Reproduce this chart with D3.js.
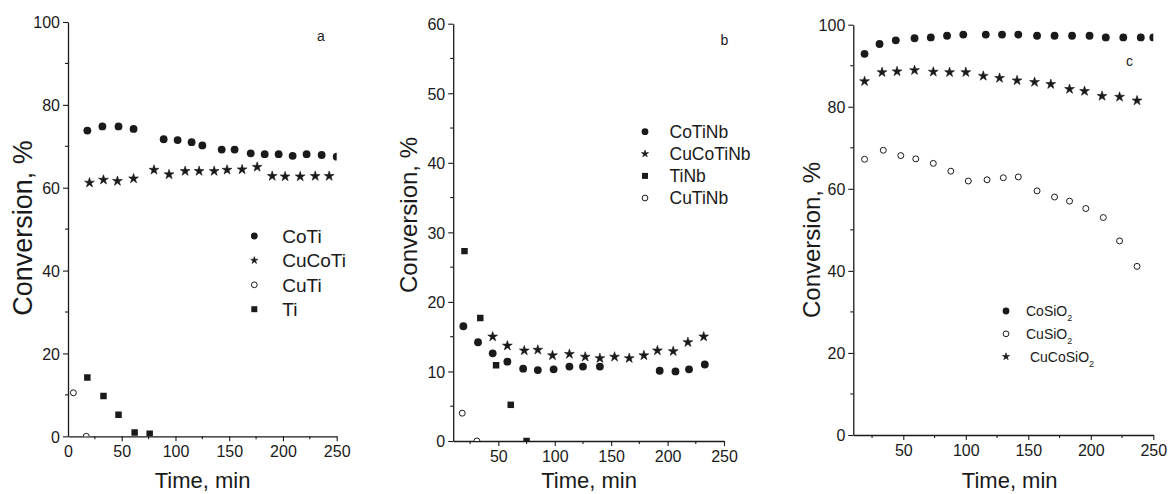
<!DOCTYPE html>
<html>
<head>
<meta charset="utf-8">
<script src="https://cdn.jsdelivr.net/npm/d3@7"></script>
<style>
  html, body { margin: 0; padding: 0; background: #fff; }
  svg { display: block; font-family: "Liberation Sans", Arial, sans-serif; }
</style>
</head>
<body>
<script>
// data ======================================================================
// panel a
var coTiTime   = [18, 32, 47, 61, 89, 102, 115, 125, 143, 155, 170, 183, 196, 209, 222, 236, 250]
var coTiConv   = [73.8, 74.8, 74.8, 74.2, 71.7, 71.5, 71.0, 70.2, 69.2, 69.2, 68.3, 68.1, 68.1, 67.7, 68.1, 67.9, 67.5]
var cuCoTiTime = [20, 33, 46, 61, 80, 94, 109, 122, 136, 148, 162, 176, 190, 202, 216, 230, 243]
var cuCoTiConv = [61.2, 61.9, 61.6, 62.2, 64.3, 63.2, 64.0, 64.0, 64.0, 64.3, 64.4, 65.0, 62.8, 62.7, 62.7, 62.8, 62.8]
var cuTiTime   = [5, 17]
var cuTiConv   = [10.5, 0]
var tiTime     = [18, 33, 47, 62, 76]
var tiConv     = [14.2, 9.7, 5.2, 0.9, 0.6]

// panel b
var coTiNbTime   = [19, 32, 45, 58, 72, 85, 99, 113, 125, 140, 193, 207, 219, 233]
var coTiNbConv   = [16.5, 14.2, 12.6, 11.4, 10.4, 10.2, 10.3, 10.7, 10.7, 10.7, 10.1, 10.0, 10.3, 11.0]
var cuCoTiNbTime = [45, 58, 73, 85, 98, 113, 127, 140, 153, 166, 179, 191, 205, 218, 232]
var cuCoTiNbConv = [15.0, 13.7, 13.0, 13.1, 12.3, 12.5, 12.1, 11.9, 12.1, 11.9, 12.3, 13.0, 12.9, 14.2, 15.0]
var tiNbTime     = [20, 34, 48, 61, 75]
var tiNbConv     = [27.3, 17.7, 10.9, 5.2, 0]
var cuTiNbTime   = [18, 31]
var cuTiNbConv   = [4.0, 0]

// panel c
var coSiTime   = [19, 31, 44, 59, 72, 85, 98, 116, 129, 142, 157, 171, 185, 199, 212, 226, 240, 250]
var coSiConv   = [92.9, 95.3, 96.2, 96.7, 96.9, 97.3, 97.6, 97.6, 97.6, 97.6, 97.3, 97.3, 97.3, 97.3, 96.9, 96.9, 96.9, 96.9]
var cuSiTime   = [19, 34, 48, 60, 74, 88, 102, 117, 130, 142, 157, 171, 183, 196, 210, 223, 237]
var cuSiConv   = [67.2, 69.4, 68.1, 67.3, 66.2, 64.3, 61.9, 62.2, 62.7, 62.9, 59.5, 58.0, 57.0, 55.2, 53.0, 47.3, 41.1]
var cuCoSiTime = [19, 33, 45, 59, 74, 87, 100, 114, 127, 141, 155, 168, 183, 195, 209, 223, 237]
var cuCoSiConv = [86.2, 88.4, 88.6, 88.9, 88.5, 88.4, 88.4, 87.5, 87.0, 86.4, 86.0, 85.5, 84.3, 83.8, 82.6, 82.4, 81.5]

// tick values
var ticksA  = { x: [0, 50, 100, 150, 200, 250], xm: [25, 75, 125, 175, 225], y: [0, 20, 40, 60, 80, 100], ym: [10, 30, 50, 70, 90] }
var ticksB  = { x: [50, 100, 150, 200, 250], xm: [25, 75, 125, 175, 225], y: [0, 10, 20, 30, 40, 50, 60], ym: [5, 15, 25, 35, 45, 55] }
var ticksC  = { x: [50, 100, 150, 200, 250], xm: [25, 75, 125, 175, 225], y: [0, 20, 40, 60, 80, 100], ym: [10, 30, 50, 70, 90] }

// marker shapes ============================================================
var ink = "#1a1a1a"
var markers = {
    dot:    { type: d3.symbolCircle, size: 48, key: 36, fill: ink,    stroke: "none", sw: 0 },
    star:   { type: d3.symbolStar,   size: 30, key: 16, fill: ink,    stroke: ink,    sw: 0.6 },
    ring:   { type: d3.symbolCircle, size: 28, key: 26, fill: "#fff", stroke: ink,    sw: 1 },
    square: { type: d3.symbolSquare, size: 42, key: 36, fill: ink,    stroke: "none", sw: 0 }
}

var zip = function(t, v) { return t.map(function(d, i) { return [d, v[i]] }) }

// panels: layout in pixels, data from the arrays above
var panels = [
    {
        id: "a", xDom: [0, 250], xR: [68, 336.7], yDom: [0, 100], yR: [436.3, 22], ticks: ticksA,
        series: [
            { name: "CoTi",   m: "dot",    pts: zip(coTiTime, coTiConv) },
            { name: "CuCoTi", m: "star",   pts: zip(cuCoTiTime, cuCoTiConv) },
            { name: "CuTi",   m: "ring",   pts: zip(cuTiTime, cuTiConv) },
            { name: "Ti",     m: "square", pts: zip(tiTime, tiConv) }
        ],
        legend: { x: 254.3, y: 236, dy: 24.4, tx: 28, font: 19 },
        tag: { x: 321, y: 41 },
        yTitle: { x: 32, y: 228, font: 27 },
        xTitle: { x: 202.5, y: 488, font: 22 }
    },
    {
        id: "b", xDom: [10, 250], xR: [453.2, 724], yDom: [0, 60], yR: [441, 23.7], ticks: ticksB,
        series: [
            { name: "CoTiNb",   m: "dot",    pts: zip(coTiNbTime, coTiNbConv) },
            { name: "CuCoTiNb", m: "star",   pts: zip(cuCoTiNbTime, cuCoTiNbConv) },
            { name: "TiNb",     m: "square", pts: zip(tiNbTime, tiNbConv) },
            { name: "CuTiNb",   m: "ring",   pts: zip(cuTiNbTime, cuTiNbConv) }
        ],
        legend: { x: 645, y: 131.7, dy: 22.1, tx: 24.5, font: 17.5 },
        tag: { x: 724.5, y: 45 },
        yTitle: { x: 417, y: 215, font: 24 },
        xTitle: { x: 589, y: 488, font: 22 }
    },
    {
        id: "c", xDom: [10, 250], xR: [853.3, 1153.3], yDom: [0, 100], yR: [435, 24.7], ticks: ticksC,
        series: [
            { name: "CoSiO", sub: "2",   m: "dot",  pts: zip(coSiTime, coSiConv) },
            { name: "CuSiO", sub: "2",   m: "ring", pts: zip(cuSiTime, cuSiConv) },
            { name: " CuCoSiO", sub: "2", m: "star", pts: zip(cuCoSiTime, cuCoSiConv) }
        ],
        legend: { x: 1006, y: 311, dy: 22.8, tx: 20, font: 14 },
        tag: { x: 1129.5, y: 66 },
        yTitle: { x: 819.5, y: 240, font: 24 },
        xTitle: { x: 1009.7, y: 488, font: 22 }
    }
]

var svg = d3.select("body").append("svg")
    .attr("width", 1170)
    .attr("height", 494)

var defs = svg.append("defs")

panels.forEach(function(p) {
    var x = d3.scaleLinear().domain(p.xDom).range(p.xR)
    var y = d3.scaleLinear().domain(p.yDom).range(p.yR)
    var g = svg.append("g").attr("class", "panel-" + p.id)

    // clip marks to the plot area, like the original
    defs.append("clipPath").attr("id", "clip-" + p.id)
        .append("rect")
        .attr("x", p.xR[0]).attr("y", p.yR[1])
        .attr("width", p.xR[1] - p.xR[0]).attr("height", p.yR[0] - p.yR[1])

    // axes
    var xAxis = g.append("g").attr("transform", "translate(0," + p.yR[0] + ")")
        .call(d3.axisBottom(x).tickValues(p.ticks.x).tickSize(5).tickSizeOuter(0).tickPadding(4))
    xAxis.selectAll(".tick").filter(function(d) { return d === p.xDom[0] }).select("line").remove()
    xAxis.append("g").selectAll("line").data(p.ticks.xm).enter().append("line")
        .attr("x1", x).attr("x2", x).attr("y1", 0).attr("y2", 3)

    var yAxis = g.append("g").attr("transform", "translate(" + p.xR[0] + ",0)")
        .call(d3.axisLeft(y).tickValues(p.ticks.y).tickSize(5).tickSizeOuter(0).tickPadding(3))
    yAxis.append("g").selectAll("line").data(p.ticks.ym).enter().append("line")
        .attr("y1", y).attr("y2", y).attr("x1", 0).attr("x2", -3)

    g.selectAll(".domain").attr("stroke", ink).attr("stroke-width", 1.3)
    g.selectAll("line").attr("stroke", ink).attr("stroke-width", 1.1)
    g.selectAll(".tick text")
        .attr("font-family", "Liberation Sans, Arial, sans-serif")
        .attr("font-size", 16)
        .attr("fill", ink)
    xAxis.selectAll(".tick text").attr("dy", "0.72em")
    yAxis.selectAll(".tick text").attr("dy", "0.36em")

    // markers
    var marks = g.append("g").attr("clip-path", "url(#clip-" + p.id + ")")
    p.series.forEach(function(s) {
        var mk = markers[s.m]
        marks.append("g").selectAll("path")
            .data(s.pts)
            .enter().append("path")
            .attr("transform", function(d) { return "translate(" + x(d[0]) + "," + y(d[1]) + ")" })
            .attr("d", d3.symbol().type(mk.type).size(mk.size))
            .attr("fill", mk.fill)
            .attr("stroke", mk.stroke)
            .attr("stroke-width", mk.sw)
    })

    // legend
    var lg = g.append("g")
    p.series.forEach(function(s, i) {
        var mk = markers[s.m]
        var cy = p.legend.y + i * p.legend.dy
        lg.append("path")
            .attr("transform", "translate(" + p.legend.x + "," + cy + ")")
            .attr("d", d3.symbol().type(mk.type).size(mk.key))
            .attr("fill", mk.fill)
            .attr("stroke", mk.stroke)
            .attr("stroke-width", mk.sw)
        var t = lg.append("text")
            .attr("x", p.legend.x + p.legend.tx)
            .attr("y", cy)
            .attr("dy", "0.36em")
            .attr("font-size", p.legend.font)
            .attr("fill", ink)
            .attr("xml:space", "preserve")
            .style("white-space", "pre")
            .text(s.name)
        if (s.sub) {
            t.append("tspan").attr("font-size", 9).attr("dy", 5).text(s.sub)
        }
    })

    // panel letter
    g.append("text")
        .attr("x", p.tag.x).attr("y", p.tag.y)
        .attr("text-anchor", "middle")
        .attr("font-size", 14)
        .attr("fill", ink)
        .text(p.id)

    // axis titles
    g.append("text")
        .attr("transform", "translate(" + p.yTitle.x + "," + p.yTitle.y + ") rotate(-90)")
        .attr("text-anchor", "middle")
        .attr("font-size", p.yTitle.font)
        .attr("fill", ink)
        .text("Conversion, %")

    g.append("text")
        .attr("x", p.xTitle.x).attr("y", p.xTitle.y)
        .attr("text-anchor", "middle")
        .attr("font-size", p.xTitle.font)
        .attr("fill", ink)
        .text("Time, min")
})
</script>
</body>
</html>
